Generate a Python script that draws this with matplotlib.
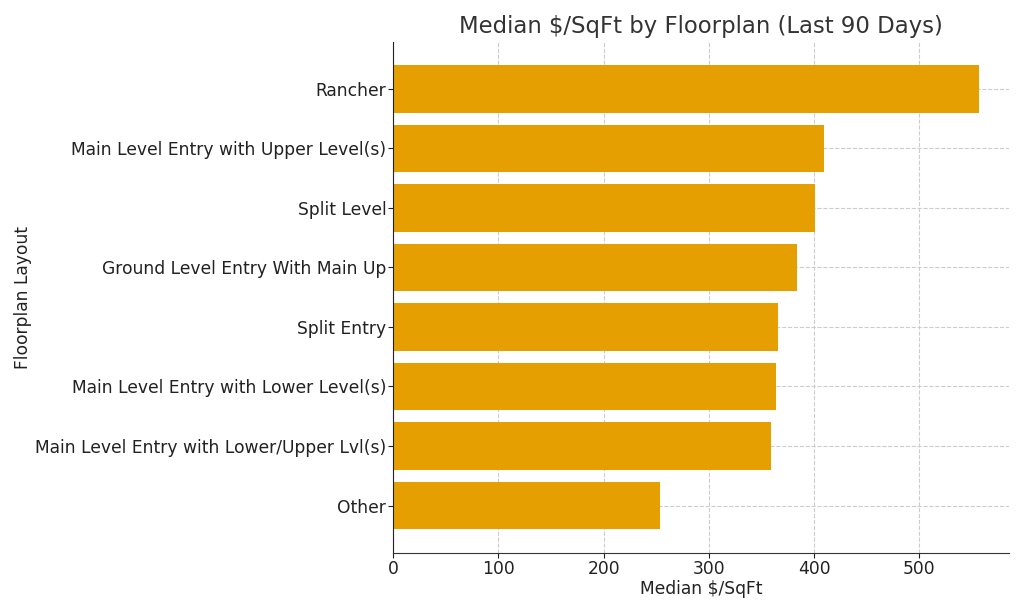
import matplotlib.pyplot as plt

plt.rcParams["font.family"] = "DejaVu Sans"

floorplans = [
    "Rancher",
    "Main Level Entry with Upper Level(s)",
    "Split Level",
    "Ground Level Entry With Main Up",
    "Split Entry",
    "Main Level Entry with Lower Level(s)",
    "Main Level Entry with Lower/Upper Lvl(s)",
    "Other",
]
median_psf = [557, 409, 401, 384, 366, 364, 359, 254]

fig, ax = plt.subplots(figsize=(10.24, 6.14), dpi=100)
fig.subplots_adjust(left=0.384, right=0.985, top=0.932, bottom=0.1)

ax.barh(floorplans, median_psf, color="#E69F00", height=0.8, zorder=2)
ax.invert_yaxis()

ax.set_title("Median $/SqFt by Floorplan (Last 90 Days)", fontsize=16.4, color="#333333")
ax.set_xlabel("Median $/SqFt", fontsize=12.3, color="#222222", labelpad=2)
ax.set_ylabel("Floorplan Layout", fontsize=12.3, color="#222222", labelpad=2.5)
ax.tick_params(labelsize=12.3, colors="#222222", length=3.5, pad=1.5)

ax.grid(True, linestyle="--", color="#cccccc", linewidth=0.8, zorder=0)
ax.spines["top"].set_visible(False)
ax.spines["right"].set_visible(False)
ax.spines["left"].set_color("#222222")
ax.spines["bottom"].set_color("#333333")

fig.savefig("out.png")
